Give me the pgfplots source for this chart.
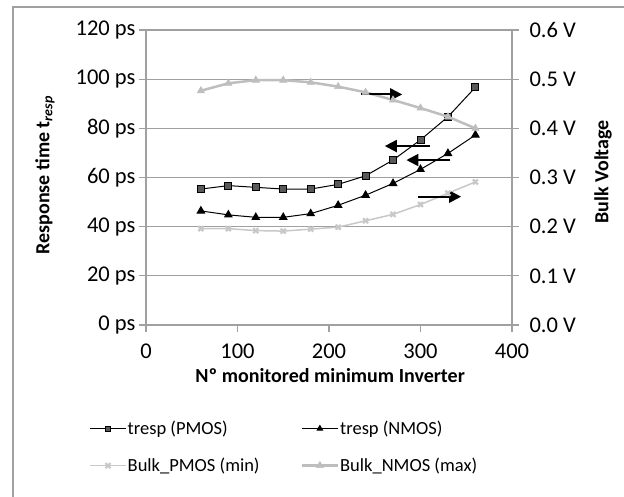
\documentclass[border=0pt]{standalone}
\usepackage{fontspec}
\setmainfont{Carlito}
\usepackage{pgfplots}
\pgfplotsset{compat=1.18}
\usetikzlibrary{arrows.meta}
\definecolor{axgray}{RGB}{160,160,160}
\definecolor{sqfill}{RGB}{89,89,89}
\definecolor{bpmos}{RGB}{200,200,200}
\definecolor{bnmos}{RGB}{190,190,190}
\newcommand{\tf}{\fontsize{22.5}{26}\selectfont}
\begin{document}
\begin{tikzpicture}[x=1pt,y=1pt]
\path[use as bounding box] (-146,-171) rectangle (478,325);
\draw[axgray, line width=1.2pt] (-133,-200) -- (-133,318) -- (520,318);
\pgfplotsset{
  common/.style={
    at={(0,0)}, anchor=south west,
    scale only axis, width=366pt, height=295pt,
    xmin=0, xmax=400,
    tick align=outside, major tick length=7pt,
    axis line style={draw=axgray, line width=1.2pt},
    tick style={draw=axgray, line width=1.2pt},
    /pgf/number format/assume math mode=true,
    every tick label/.append style={font=\tf},
    label style={font=\bfseries\fontsize{20}{24}\selectfont},
  }
}
\begin{axis}[common,
  ymin=0, ymax=120,
  xtick={0,100,200,300,400}, ytick={0,20,40,60,80,100,120},
  axis x line*=bottom, axis y line*=left,
  ymajorgrids, grid style={draw=axgray, line width=1.2pt},
  yticklabel={\pgfmathprintnumber{\tick} ps},
  xticklabel style={yshift=-8pt},
  xlabel={Nº monitored minimum Inverter},
  ylabel={Response time t\textsubscript{\textit{resp}}},
  xlabel style={at={(axis description cs:0.503,-0.1729)}, anchor=center},
  ylabel style={at={(axis description cs:-0.276,0.508)}, anchor=center},
]
\addplot[black, line width=1pt, mark=square*, mark size=3.5pt,
  mark options={fill=sqfill, draw=black, line width=0.8pt}]
  coordinates {(60,55.3)(90,56.7)(120,56.0)(150,55.3)(180,55.3)(210,57.2)(240,60.7)(270,67.1)(300,75.3)(330,84.7)(360,96.7)};
\addplot[black, line width=1pt, mark=triangle*, mark size=4.2pt,
  mark options={fill=black, draw=black}]
  coordinates {(60,46.4)(90,44.8)(120,43.8)(150,43.8)(180,45.3)(210,48.7)(240,52.8)(270,57.6)(300,63.3)(330,69.8)(360,77.3)};
\end{axis}
\begin{axis}[common,
  ymin=0, ymax=0.6,
  axis x line=none, axis y line*=right,
  ytick={0,0.1,0.2,0.3,0.4,0.5,0.6},
  yticklabel={\pgfmathprintnumber[fixed,fixed zerofill,precision=1]{\tick} V},
  yticklabel style={xshift=7pt},
  ylabel={Bulk Voltage},
  ylabel style={at={(axis description cs:1.2486,0.519)}, anchor=center},
  legend columns=2,
  legend cell align=left,
  legend image code/.code={\draw[mark repeat=2,mark phase=2] plot coordinates {(0pt,0pt)(18pt,0pt)(36pt,0pt)};},
  legend style={at={(axis description cs:-0.1557,-0.325)}, anchor=north west,
    draw=none, fill=none, inner sep=0pt,
    font=\fontsize{18.5}{22}\selectfont,
    /tikz/column 2/.style={column sep=40pt},
    /tikz/row sep=22pt,
    nodes={inner xsep=1pt, inner ysep=0pt}},
]
\addlegendimage{black, line width=1pt, mark=square*, mark size=2.5pt, mark options={fill=sqfill, draw=black, line width=0.6pt}}
\addlegendentry{tresp (PMOS)}
\addlegendimage{black, line width=1pt, mark=triangle*, mark size=3pt, mark options={fill=black, draw=black}}
\addlegendentry{tresp (NMOS)}
\addplot[bpmos, line width=1.5pt, mark=x, mark size=3.5pt, mark options={line width=2.2pt, draw=bpmos}]
  coordinates {(60,0.196)(90,0.196)(120,0.192)(150,0.191)(180,0.195)(210,0.199)(240,0.212)(270,0.225)(300,0.245)(330,0.268)(360,0.291)};
\addlegendentry{Bulk\_PMOS (min)}
\addplot[bnmos, line width=2.5pt, mark=triangle*, mark size=4.2pt, mark options={fill=bnmos, draw=bnmos, line width=0.5pt}]
  coordinates {(60,0.4765)(90,0.4916)(120,0.498)(150,0.498)(180,0.4936)(210,0.4848)(240,0.4733)(270,0.4576)(300,0.4413)(330,0.4237)(360,0.400)};
\addlegendentry{Bulk\_NMOS (max)}
\draw[black, line width=2pt, -{Triangle[length=12pt,width=12pt]}] (axis cs:235,0.469) -- (axis cs:280,0.469);
\draw[black, line width=2pt, -{Triangle[length=12pt,width=12pt]}] (axis cs:310,0.364) -- (axis cs:261,0.364);
\draw[black, line width=2pt, -{Triangle[length=12pt,width=12pt]}] (axis cs:332.6,0.3355) -- (axis cs:284.6,0.3355);
\draw[black, line width=2pt, -{Triangle[length=12pt,width=12pt]}] (axis cs:297,0.261) -- (axis cs:344.4,0.261);
\end{axis}
\end{tikzpicture}
\end{document}
